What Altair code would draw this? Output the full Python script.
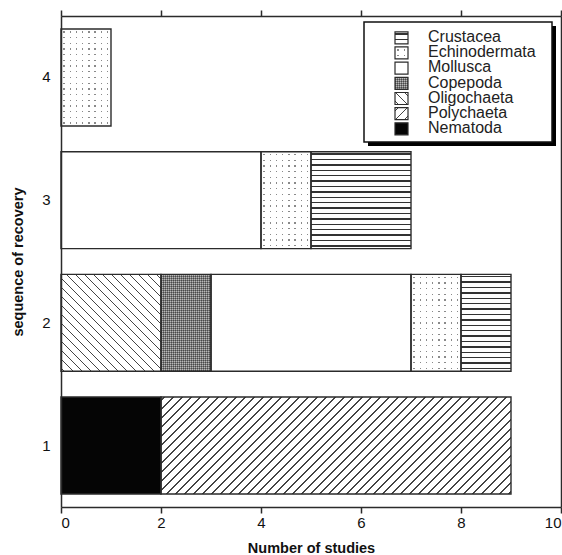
import altair as alt
import pandas as pd

# Studies per taxon, grouped by the sequence in which taxa recovered
ROWS = ["1", "1", "2", "2", "2", "2", "2", "3", "3", "3", "4"]
TAXA = ["Nematoda", "Polychaeta",
        "Oligochaeta", "Copepoda", "Mollusca", "Echinodermata", "Crustacea",
        "Mollusca", "Echinodermata", "Crustacea",
        "Echinodermata"]
COUNTS = [2, 7, 2, 1, 4, 1, 1, 4, 1, 2, 1]

SEQUENCE = ["4", "3", "2", "1"]
LEGEND_ORDER = ["Crustacea", "Echinodermata", "Mollusca", "Copepoda",
                "Oligochaeta", "Polychaeta", "Nematoda"]
X_TICKS = [0, 2, 4, 6, 8, 10]

# stacked segments: start/end of each taxon within its row
starts, ends, running = [], [], {}
for r, c in zip(ROWS, COUNTS):
    s = running.get(r, 0)
    starts.append(s)
    ends.append(s + c)
    running[r] = s + c
df = pd.DataFrame({"seg": range(len(ROWS)), "row": ROWS, "taxon": TAXA,
                   "count": COUNTS, "start": starts, "end": ends})

W, H = 500, 491
PX_PER_UNIT = W / 10
PAD_IN, PAD_OUT = 0.21, 0.106
BAR_H = H / (len(SEQUENCE) - PAD_IN + 2 * PAD_OUT) * (1 - PAD_IN)
INK = "#2b2b2b"
FONT = "Liberation Sans"


# ---- hatch fills built from linear gradients with hard stops ----
def striped(n, frac, line, bg, x1, y1, x2, y2, phase=0.3):
    stops = [{"offset": 0.0, "color": bg}]
    last = 0.0
    for k in range(int(n) + 1):
        a = (k + phase) / n
        b = a + frac / n
        if a >= 1:
            break
        b = min(b, 1.0)
        a = max(a, last)
        stops += [{"offset": round(a, 5), "color": bg},
                  {"offset": round(a, 5), "color": line},
                  {"offset": round(b, 5), "color": line},
                  {"offset": round(b, 5), "color": bg}]
        last = b
    stops.append({"offset": 1.0, "color": bg})
    return {"gradient": "linear", "x1": x1, "y1": y1, "x2": x2, "y2": y2,
            "stops": stops}


def diagonal(w, h, period, rising=True, line="#444444"):
    s = (w + h) / (w * w + h * h)
    n = (w + h) / period
    frac = 1.5 / period
    if rising:
        return striped(n, frac, line, "white", 0, 0, w * s, h * s)
    return striped(n, frac, line, "white", 0, 1, w * s, 1 - h * s)


def fills_for(taxon, w, h):
    if taxon == "Nematoda":
        return ["#050505"]
    if taxon == "Mollusca":
        return ["white"]
    if taxon == "Polychaeta":
        return [diagonal(w, h, 9.0, rising=True)]
    if taxon == "Oligochaeta":
        return [diagonal(w, h, 9.0, rising=False)]
    if taxon == "Crustacea":
        return [striped(h / 5.4, 1.4 / 5.4, "#333333", "white", 0, 0, 0, 1)]
    if taxon == "Echinodermata":
        cols = striped(w / 6.2, 1.3 / 6.2, "#8a8a8a", "white", 0, 0, 1, 0, 0.4)
        rows = striped(h / 5.7, 1.3 / 5.7, "rgba(255,255,255,0)", "white",
                       0, 0, 0, 1, 0.4)
        return [cols, rows]
    if taxon == "Copepoda":
        cols = striped(w / 2.0, 0.5, "#5a5a5a", "#a8a8a8", 0, 0, 1, 0, 0)
        rows = striped(h / 2.0, 0.5, "rgba(40,40,40,0.35)",
                       "rgba(255,255,255,0.2)", 0, 0, 0, 1, 0)
        return [cols, rows]
    return ["white"]


x_enc = alt.X("start:Q", scale=alt.Scale(domain=[0, 10], nice=False, zero=True),
              axis=None)
y_enc = alt.Y("row:N", scale=alt.Scale(domain=SEQUENCE, paddingInner=PAD_IN,
                                       paddingOuter=PAD_OUT), axis=None)

base = alt.Chart(df)
layers = []

# pattern fills, one layer per segment (and per fill pass)
for i, row in df.iterrows():
    w = row["count"] * PX_PER_UNIT
    for f in fills_for(row["taxon"], w, BAR_H):
        layers.append(
            base.mark_bar(fill=f, strokeWidth=0)
            .encode(x=x_enc, x2="end:Q", y=y_enc)
            .transform_filter(alt.datum.seg == int(row["seg"]))
        )

# segment outlines, carrying the bottom and left axes
layers.append(
    base.mark_bar(fillOpacity=0, stroke=INK, strokeWidth=1.4)
    .encode(
        x=alt.X("start:Q", scale=alt.Scale(domain=[0, 10], nice=False),
                axis=alt.Axis(values=X_TICKS, title="Number of studies",
                              orient="bottom", grid=False, tickSize=6,
                              labelPadding=2, titlePadding=11, zindex=1)),
        x2="end:Q",
        y=alt.Y("row:N",
                scale=alt.Scale(domain=SEQUENCE, paddingInner=PAD_IN,
                                paddingOuter=PAD_OUT),
                axis=alt.Axis(title="sequence of recovery", orient="left",
                              ticks=False, labelPadding=11, labelAngle=0,
                              titlePadding=16, zindex=1)),
        tooltip=["taxon:N", "count:Q"],
    )
)

# top and right frame lines
layers.append(
    base.mark_bar(opacity=0)
    .encode(
        x=alt.X("start:Q", scale=alt.Scale(domain=[0, 10], nice=False),
                axis=alt.Axis(values=X_TICKS, orient="top", labels=False,
                              title=None, grid=False, tickSize=6, zindex=1)),
        x2="end:Q",
        y=alt.Y("row:N", scale=alt.Scale(domain=SEQUENCE, paddingInner=PAD_IN,
                                         paddingOuter=PAD_OUT),
                axis=alt.Axis(orient="right", labels=False, ticks=False,
                              title=None, zindex=1)),
    )
)

# ---- legend box with a drop shadow ----
one = alt.Data(values=[{"k": 1}])
BOX = (303, 491, 6, 126)
layers.append(
    alt.Chart(one).mark_rect(fill="#000000")
    .encode(x=alt.value(BOX[0] + 4), x2=alt.value(BOX[1] + 4),
            y=alt.value(BOX[2] + 4), y2=alt.value(BOX[3] + 4))
)
layers.append(
    alt.Chart(one).mark_rect(fill="white", stroke="#111111", strokeWidth=1.5)
    .encode(x=alt.value(BOX[0]), x2=alt.value(BOX[1]),
            y=alt.value(BOX[2]), y2=alt.value(BOX[3]))
)

legend_df = pd.DataFrame({"taxon": LEGEND_ORDER})
SW_X, SW_W, SW_H = 334, 13, 12
for i, name in enumerate(LEGEND_ORDER):
    cy = 21.8 + 15.17 * i
    pos = dict(x=alt.value(SW_X), x2=alt.value(SW_X + SW_W),
               y=alt.value(cy - SW_H / 2), y2=alt.value(cy + SW_H / 2))
    for f in fills_for(name, SW_W, SW_H):
        layers.append(
            alt.Chart(legend_df).mark_rect(fill=f)
            .encode(**pos).transform_filter(alt.datum.taxon == name)
        )
    layers.append(
        alt.Chart(legend_df).mark_rect(fillOpacity=0, stroke=INK, strokeWidth=1.2)
        .encode(**pos).transform_filter(alt.datum.taxon == name)
    )
    layers.append(
        alt.Chart(legend_df)
        .mark_text(align="left", baseline="middle", font=FONT, fontSize=16,
                   color="#222222")
        .encode(x=alt.value(367), y=alt.value(cy - 0.8), text="taxon:N")
        .transform_filter(alt.datum.taxon == name)
    )

chart = (
    alt.layer(*layers)
    .resolve_axis(x="independent", y="independent")
    .properties(width=W, height=H, autosize=alt.AutoSizeParams(type="none"),
                padding={"left": 61, "top": 16, "right": 1, "bottom": 48})
    .configure_view(stroke=None)
    .configure_axis(domainColor=INK, domainWidth=1.5, tickColor=INK,
                    tickWidth=1.5, labelFont=FONT, labelFontSize=15,
                    labelColor="#111111", titleFont=FONT, titleFontSize=14.5,
                    titleFontWeight="bold", titleColor="#111111")
)

chart.save("out.html", embed_options={"renderer": "svg", "actions": False})
